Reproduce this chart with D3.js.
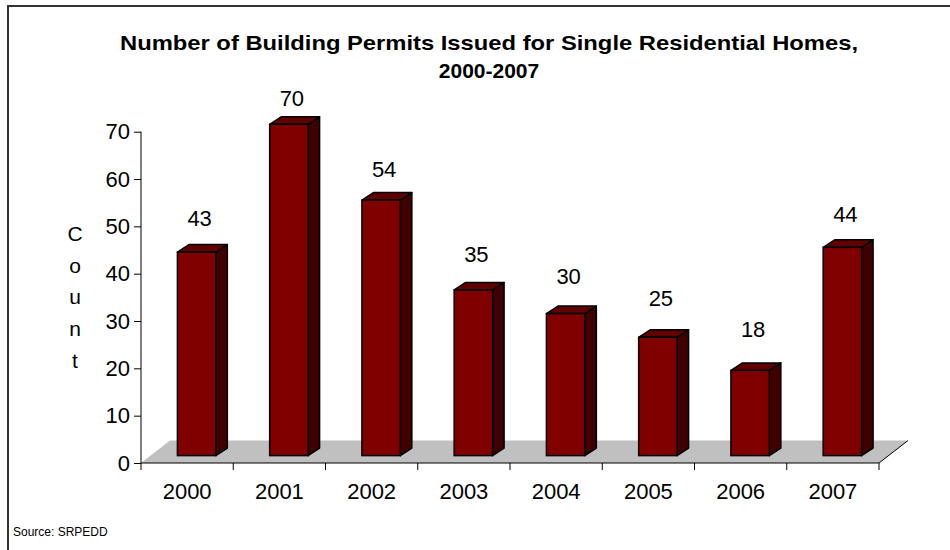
<!DOCTYPE html>
<html>
<head>
<meta charset="utf-8">
<script src="https://cdn.jsdelivr.net/npm/d3@7"></script>
<style>
  body { margin: 0; background: #fff; }
  svg { display: block; font-family: Arial, "Liberation Sans", sans-serif; }
</style>
</head>
<body>
<div id="chart"></div>
<script>
// data
var years = ["2000", "2001", "2002", "2003", "2004", "2005", "2006", "2007"];
var permits = [43, 70, 54, 35, 30, 25, 18, 44];
var yTicks = [0, 10, 20, 30, 40, 50, 60, 70];
var titleLines = ["Number of Building Permits Issued for Single Residential Homes,", "2000-2007"];
var axisTitle = ["C", "o", "u", "n", "t"];
var source = "Source: SRPEDD";

var W = 950, H = 550;

var svg = d3.select("#chart")
            .append("svg")
            .attr("width", W)
            .attr("height", H);

// frame (only top and left edge show in the picture)
svg.append("path")
   .attr("d", "M8,550 L8,6 L950,6")
   .attr("fill", "none")
   .attr("stroke", "#333")
   .attr("stroke-width", 2);

// scales
var x = d3.scaleBand()
          .domain(years)
          .range([141, 879]);

var y = d3.scaleLinear()
          .domain([0, 70])
          .range([463, 131.7]);

// where the value labels sit (Excel places them a bit oddly in 3d)
var labelY = d3.scaleLinear()
               .domain([0, 70])
               .range([417.5, 106]);

// 3d offsets
var floorDx = 29, floorDy = -22.5;   // depth of the floor
var offDx = 9.5, offDy = -7.4;       // bar front plane
var barDx = 11.5, barDy = -7.5;      // bar depth
var barW = x.bandwidth() * 0.4165;

// floor
var x0 = x.range()[0], x1 = x.range()[1], y0 = y(0);
svg.append("path")
   .attr("d", "M" + x0 + "," + y0 + " L" + x1 + "," + y0 +
              " L" + (x1 + floorDx) + "," + (y0 + floorDy) +
              " L" + (x0 + floorDx) + "," + (y0 + floorDy) + " Z")
   .attr("fill", "#c0c0c0");
svg.append("line")
   .attr("x1", x1).attr("y1", y0)
   .attr("x2", x1 + floorDx).attr("y2", y0 + floorDy)
   .attr("stroke", "#000")
   .attr("stroke-width", 1);

// axes
var yAxis = d3.axisLeft(y)
              .tickValues(yTicks)
              .tickSize(7)
              .tickPadding(4);
var gy = svg.append("g")
            .attr("transform", "translate(" + x0 + ",0)")
            .call(yAxis);
gy.select(".domain").attr("d", "M0," + y(70) + "V" + y(0));
gy.selectAll("text")
  .style("font-size", "22px")
  .attr("fill", "#000");

var xAxis = d3.axisBottom(x)
              .tickSize(0)
              .tickPadding(20);
var gx = svg.append("g")
            .attr("transform", "translate(0," + y0 + ")")
            .call(xAxis);
gx.select(".domain").attr("d", "M" + x0 + ",0H" + x1);
gx.selectAll("text")
  .style("font-size", "22px")
  .attr("fill", "#000");
// tick marks between categories
gx.selectAll("line.sep")
  .data(years.concat(["end"]))
  .enter()
  .append("line")
  .attr("class", "sep")
  .attr("x1", function(d, i) { return x0 + i * x.step(); })
  .attr("x2", function(d, i) { return x0 + i * x.step(); })
  .attr("y1", 0)
  .attr("y2", 7)
  .attr("stroke", "#000");

// bars
var bars = svg.selectAll("g.bar")
              .data(permits)
              .enter()
              .append("g")
              .attr("class", "bar");

function left(d, i) {
    return x(years[i]) + (x.bandwidth() - barW) / 2 + offDx;
}

bars.append("path") // side
    .attr("d", function(d, i) {
        var l = left(d, i) + barW, t = y(d) + offDy, b = y(0) + offDy;
        return "M" + l + "," + t + " L" + (l + barDx) + "," + (t + barDy) +
               " L" + (l + barDx) + "," + (b + barDy) + " L" + l + "," + b + " Z";
    })
    .attr("fill", "#400000")
    .attr("stroke", "#000")
    .attr("stroke-width", 1.5)
    .attr("stroke-linejoin", "round");

bars.append("path") // top
    .attr("d", function(d, i) {
        var l = left(d, i), t = y(d) + offDy;
        return "M" + l + "," + t + " L" + (l + barDx) + "," + (t + barDy) +
               " L" + (l + barW + barDx) + "," + (t + barDy) + " L" + (l + barW) + "," + t + " Z";
    })
    .attr("fill", "#600000")
    .attr("stroke", "#000")
    .attr("stroke-width", 1.5)
    .attr("stroke-linejoin", "round");

bars.append("rect") // front
    .attr("x", function(d, i) { return left(d, i); })
    .attr("y", function(d) { return y(d) + offDy; })
    .attr("width", barW)
    .attr("height", function(d) { return y(0) - y(d); })
    .attr("fill", "#800000")
    .attr("stroke", "#000")
    .attr("stroke-width", 1.5);

// value labels
bars.append("text")
    .text(function(d) { return d; })
    .attr("x", function(d, i) { return x(years[i]) + x.bandwidth() / 2 + 12.5; })
    .attr("y", function(d) { return labelY(d); })
    .style("text-anchor", "middle")
    .style("font-size", "22px");

// title
svg.selectAll("text.title")
   .data(titleLines)
   .enter()
   .append("text")
   .attr("class", "title")
   .text(function(d) { return d; })
   .attr("x", 489)
   .attr("y", function(d, i) { return 50 + i * 28; })
   .attr("textLength", function(d, i) { return i === 0 ? 738 : null; })
   .attr("lengthAdjust", "spacingAndGlyphs")
   .style("text-anchor", "middle")
   .style("font-size", "21px")
   .style("font-weight", "bold");

// axis title, stacked letters
svg.selectAll("text.ytitle")
   .data(axisTitle)
   .enter()
   .append("text")
   .attr("class", "ytitle")
   .text(function(d) { return d; })
   .attr("x", 75)
   .attr("y", function(d, i) { return 241 + i * 31.7; })
   .style("text-anchor", "middle")
   .style("font-size", "21px");

// source note
svg.append("text")
   .text(source)
   .attr("x", 13)
   .attr("y", 536)
   .style("font-size", "12px");
</script>
</body>
</html>
